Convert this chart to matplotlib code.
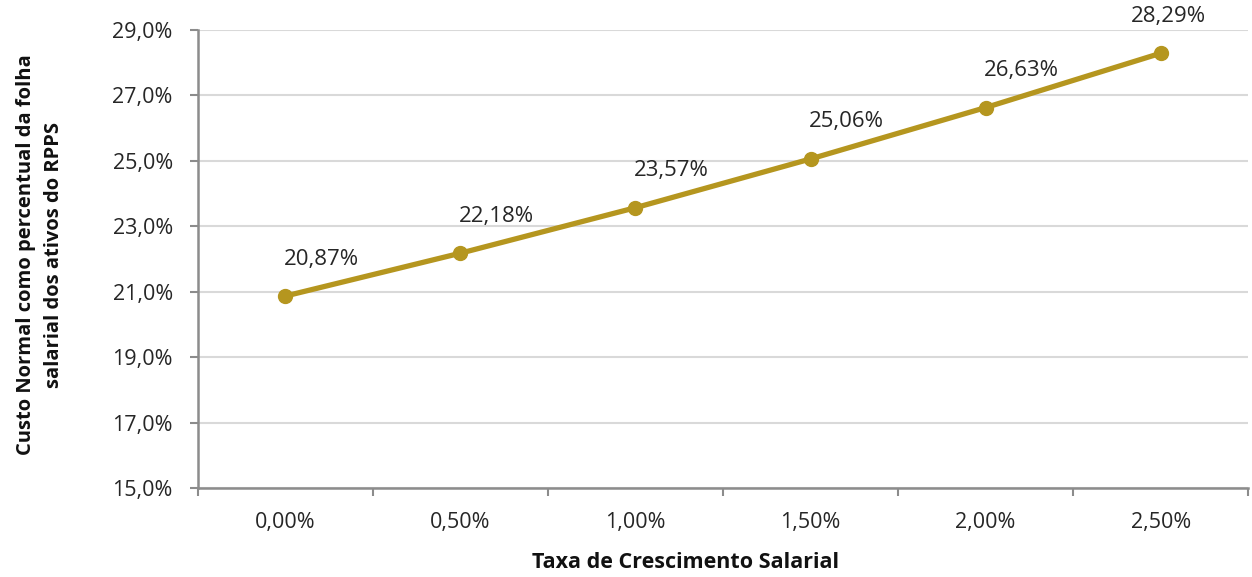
import numpy as np
import matplotlib.pyplot as plt
from matplotlib.ticker import FuncFormatter

plt.rcParams['font.family'] = ['Open Sans', 'DejaVu Sans']

categories = ["0,00%", "0,50%", "1,00%", "1,50%", "2,00%", "2,50%"]
custo = [20.87, 22.18, 23.57, 25.06, 26.63, 28.29]
yticks = [15, 17, 19, 21, 23, 25, 27, 29]

gold = '#B5961F'
axis_gray = '#8C8C8C'
grid_gray = '#D9D9D9'
text_col = '#262626'

fig = plt.figure(figsize=(12.52, 5.77), dpi=100)
ax = fig.add_axes([0.158, 0.154, 0.839, 0.794])

x = np.arange(len(categories))
ax.plot(x, custo, color=gold, lw=3.8, marker='o', ms=10, zorder=3)

# data labels, placed above and a bit right like Excel did it
for i, v in enumerate(custo):
    dx = 8 if i == len(custo) - 1 else 36
    ax.annotate(f"{v:.2f}%".replace('.', ','), (i, v), xytext=(dx, 37),
                textcoords='offset pixels', ha='center', va='center',
                fontsize=16, color=text_col)

ax.set_xlim(-0.5, len(categories) - 0.5)
ax.set_ylim(15, 29)
ax.set_yticks(yticks)
ax.yaxis.set_major_formatter(FuncFormatter(lambda v, p: f"{v:.1f}%".replace('.', ',')))
ax.set_xticks(x)
ax.set_xticklabels(categories)
ax.set_xticks(np.arange(-0.5, len(categories)), minor=True)

ax.grid(axis='y', color=grid_gray, lw=1.5)
ax.set_axisbelow(True)
for s in ['top', 'right']:
    ax.spines[s].set_visible(False)
for s in ['left', 'bottom']:
    ax.spines[s].set_color(axis_gray)
    ax.spines[s].set_linewidth(1.8)

ax.tick_params(axis='y', length=6, width=1.5, color=axis_gray, labelsize=15.5, pad=12)
ax.tick_params(axis='x', which='major', length=0, labelsize=15.5, pad=17)
ax.tick_params(axis='x', which='minor', length=6, width=1.5, color=axis_gray)
for lab in ax.get_xticklabels() + ax.get_yticklabels():
    lab.set_color(text_col)

fig.text(686 / 1252, 1 - 563 / 577, "Taxa de Crescimento Salarial",
         fontsize=15.5, fontweight='bold', ha='center', va='center', color='#111111')
fig.text(40 / 1252, 1 - 255 / 577,
         "Custo Normal como percentual da folha\nsalarial dos ativos do RPPS",
         fontsize=14.5, fontweight='bold', ha='center', va='center', rotation=90,
         linespacing=1.5, multialignment='center', color='#111111')

fig.savefig("out.png", dpi=100)
